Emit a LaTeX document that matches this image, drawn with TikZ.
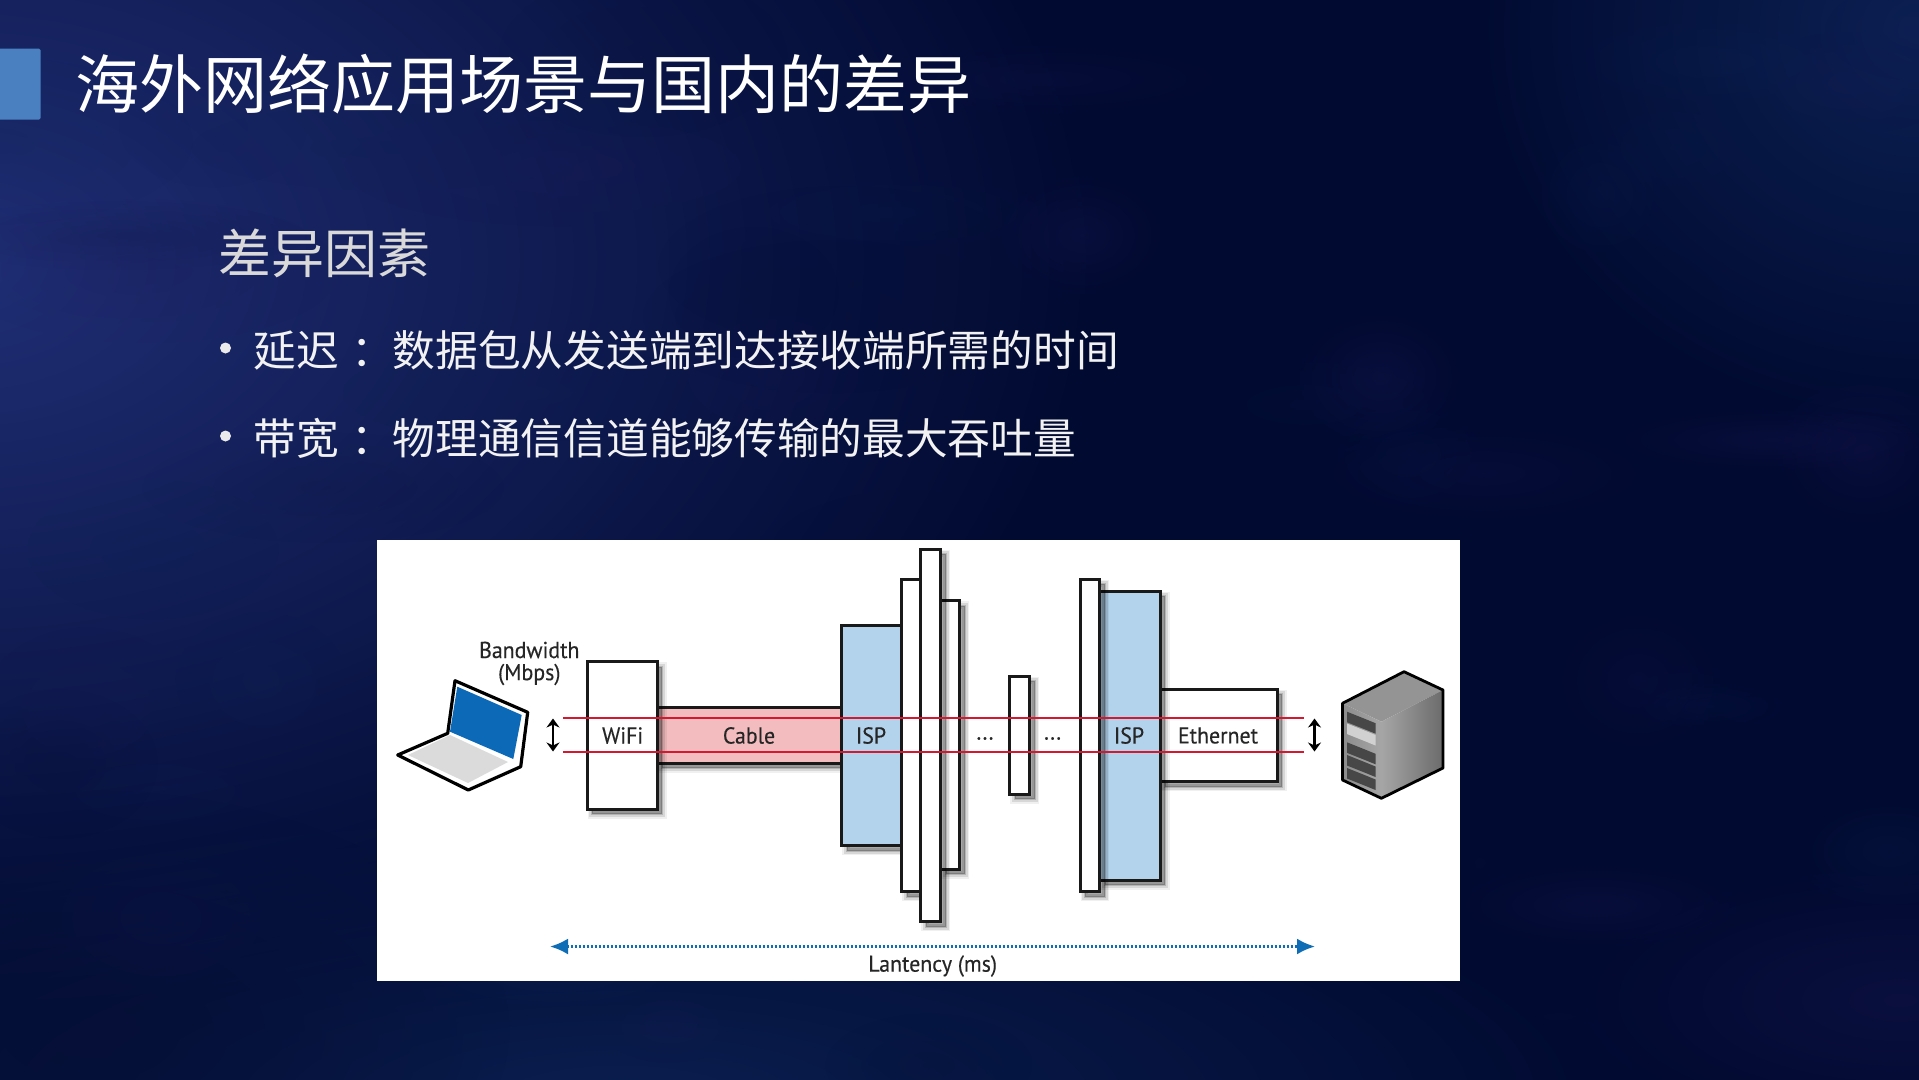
\documentclass[tikz,border=0pt]{standalone}
\usepackage{fontspec}
\usetikzlibrary{arrows.meta,shadows,fadings,calc}
\newfontfamily\cjk{Noto Sans CJK SC}
\newfontfamily\dlabel[FakeStretch=0.95,FakeBold=0.25]{PT Sans}
\definecolor{basebg}{HTML}{010A30}
\definecolor{bgblue}{HTML}{22317A}
\definecolor{bgplum}{HTML}{1C1A58}
\definecolor{bgdeep}{HTML}{050F36}
\definecolor{bgteal}{HTML}{0C2254}
\definecolor{accent}{HTML}{4A80BF}
\definecolor{ispblue}{HTML}{B3D3EC}
\definecolor{cablepink}{HTML}{F3BDBF}
\definecolor{redline}{HTML}{D5182F}
\definecolor{latblue}{HTML}{0F6DB6}
\definecolor{screenblue}{HTML}{0B69B7}
\tikzfading[name=softblob,inner color=transparent!0,outer color=transparent!100]
\tikzset{
  blob/.style={path fading=softblob,fit fading=true},
  softshadow/.style={
    general shadow={fill=black,draw=black,line width=9pt,opacity=.06,shadow xshift=5pt,shadow yshift=-5pt},
    general shadow={fill=black,draw=black,line width=6pt,opacity=.10,shadow xshift=5pt,shadow yshift=-5pt},
    general shadow={fill=black,draw=black,line width=2pt,opacity=.16,shadow xshift=5pt,shadow yshift=-5pt}},
  netbox/.style={rectangle,draw=black!90,line width=3pt,inner sep=0pt,outer sep=0pt,anchor=north west,softshadow},
  whitebox/.style={netbox,fill=white},
  ispbox/.style={netbox,fill=ispblue},
  cablebox/.style={netbox,fill=cablepink},
  netlabel/.style={font=\dlabel\fontsize{23}{25}\selectfont,text=black!85,inner sep=0pt},
  redrule/.style={draw=redline,line width=2.1pt},
  updown/.style={draw=black,line width=2.6pt,{Stealth[length=9pt,width=13pt]}-{Stealth[length=9pt,width=13pt]}},
  latency/.style={draw=latblue,line width=2.6pt,dash pattern=on 2.4pt off 1.6pt,{Latex[length=18pt,width=16pt]}-{Latex[length=18pt,width=16pt]}},
  title/.style={font=\cjk\fontsize{64}{70}\selectfont,text=white,inner sep=0pt,anchor=west},
  subhead/.style={font=\cjk\fontsize{53}{60}\selectfont,text=black!15,inner sep=0pt,anchor=west},
  bodyline/.style={font=\cjk\fontsize{42.7}{50}\selectfont,text=black!5,inner sep=0pt,anchor=west},
  bulletmark/.style={circle,fill=black!8,inner sep=0pt,minimum size=11pt},
}
\newcommand\netnode[6]{%
  \pgfmathsetmacro\nw{#4-#2}\pgfmathsetmacro\nh{#5-#3}%
  \node[#6,minimum width=\nw pt,minimum height=\nh pt] (#1) at (#2,#3) {};}
\begin{document}
\begin{tikzpicture}[x=1pt,y=-1pt]
\useasboundingbox (0,0) rectangle (1919,1079);
% background
\begin{scope}
\clip (0,0) rectangle (1919,1079);
\fill[basebg] (-10,-10) rectangle (1930,1090);
\fill[bgblue,blob,opacity=.95] (-40,260) ellipse (1150 and 760);
\fill[bgteal,blob,opacity=.85] (620,1100) ellipse (1050 and 300);
\fill[bgdeep,blob,opacity=.85] (90,1030) ellipse (420 and 240);
\fill[bgteal,blob,opacity=.95] (1919,30) ellipse (470 and 420);
\fill[bgplum,blob,opacity=.35] (1900,1000) ellipse (340 and 140);
\pgfmathsetseed{7}
\foreach \k in {1,...,60}{
  \pgfmathsetmacro\bx{rnd*1919}
  \pgfmathsetmacro\by{rnd*1079}
  \pgfmathsetmacro\bw{70+rnd*150}
  \pgfmathsetmacro\bh{25+rnd*60}
  \pgfmathsetmacro\bop{.12+rnd*.18}
  \pgfmathtruncatemacro\bc{mod(\k,3)}
  \ifnum\bc=0 \def\bcol{bgplum}\else\ifnum\bc=1 \def\bcol{bgteal}\else\def\bcol{bgdeep}\fi\fi
  \fill[\bcol,blob,opacity=\bop] (\bx,\by) ellipse (\bw pt and \bh pt);
}
\end{scope}
% header
\fill[accent,rounded corners=1.5pt] (-4,48.5) rectangle (40.5,119.5);
\node[title] (heading) at (75,83.5) {海外网络应用场景与国内的差异};
\node[subhead] (factors) at (218.5,253.5) {差异因素};
\node[bulletmark] (b1) at (225.5,348) {};
\node[bodyline] (line1) at (253.5,350) {延迟\hspace{12pt}：\hspace{-1pt}数据包从发送端到达接收端所需的时间};
\node[bulletmark] (b2) at (225.5,436) {};
\node[bodyline] (line2) at (253.5,438) {带宽\hspace{12pt}：\hspace{-1pt}物理通信信道能够传输的最大吞吐量};
% white panel
\node[rectangle,fill=white,inner sep=0pt,outer sep=0pt,anchor=north west,minimum width=1083pt,minimum height=441pt] (panel) at (377,539.5) {};
% boxes
\netnode{cable}{657}{707.7}{842}{763}{cablebox}
\netnode{wifi}{587.3}{661.7}{657}{809}{whitebox}
\netnode{ispa}{841.7}{625}{901.6}{845.7}{ispbox}
\netnode{barc}{940.5}{600.7}{959.5}{869}{whitebox}
\netnode{bara}{901.6}{579}{921}{891.7}{whitebox}
\netnode{barb}{920.6}{549}{940.5}{921.7}{whitebox}
\netnode{small}{1009.8}{676.3}{1029.5}{794.3}{whitebox}
\netnode{ether}{1160.4}{689.3}{1277}{781.7}{whitebox}
\netnode{ispb}{1099.7}{591}{1160.4}{880}{ispbox}
\netnode{bard}{1080}{579}{1099.7}{891.7}{whitebox}
% laptop
\draw[fill=white,draw=black,line width=3.2pt,line join=round] (455,680.7)--(527.7,712.3)--(520.7,766.7)--(468.3,790)--(397.7,755)--(447.7,733.3)--cycle;
\fill[screenblue] (457.3,686.7)--(521.7,715)--(513.3,759)--(450,731.7)--cycle;
\fill[black!14] (408,755)--(450,735)--(508,762)--(468,783)--cycle;
% server
\fill[black!42] (1404,671.7)--(1443,690)--(1381.4,721.7)--(1342.5,703.3)--cycle;
\shade[left color=black!35,right color=black!58] (1381.4,721.7)--(1443,690)--(1443,768)--(1381.4,798.3)--cycle;
\shade[left color=black!45,right color=black!35] (1342.5,703.3)--(1381.4,721.7)--(1381.4,798.3)--(1342.5,780)--cycle;
\foreach \sy/\sc in {711.7/black!72,723.5/black!18,742.3/black!72,755/black!72,768/black!72}{
  \fill[\sc] (1347,\sy)--(1375.6,\sy+11.5)--(1375.6,\sy+22)--(1347,\sy+10.5)--cycle;}
\draw[draw=black,line width=2.8pt,line join=round] (1404,671.7)--(1443,690)--(1443,768)--(1381.4,798.3)--(1342.5,780)--(1342.5,703.3)--cycle;
% labels
\node[netlabel] (lblwifi) at (622.7,735.5) {WiFi};
\node[netlabel] (lblcable) at (749,735.5) {Cable};
\node[netlabel] (lblisp1) at (871,735.5) {ISP};
\node[netlabel] (lbldots1) at (985,738.5) {...};
\node[netlabel] (lbldots2) at (1052.6,738.5) {...};
\node[netlabel] (lblisp2) at (1129,735.5) {ISP};
\node[netlabel] (lbleth) at (1218,735.5) {Ethernet};
\node[netlabel] (lblbw) at (529.3,650) {Bandwidth};
\node[netlabel] (lblmb) at (529.3,674.5) {(Mbps)};
\node[netlabel] (lbllat) at (932.7,966) {Lantency (ms)};
% connectors
\coordinate (redAl) at (563,717.7);
\coordinate (redAr) at (1303.6,717.7);
\coordinate (redBl) at (563,752);
\coordinate (redBr) at (1303.6,752);
\draw[redrule] (redAl)--(redAr);
\draw[redrule] (redBl)--(redBr);
\coordinate (udAt) at (553,718.5);
\coordinate (udAb) at (553,751.5);
\coordinate (udBt) at (1314.5,718.5);
\coordinate (udBb) at (1314.5,751.5);
\draw[updown] (udAt)--(udAb);
\draw[updown] (udBt)--(udBb);
\coordinate (latL) at (550,946.5);
\coordinate (latR) at (1315,946.5);
\draw[latency] (latL)--(latR);
\end{tikzpicture}
\end{document}
